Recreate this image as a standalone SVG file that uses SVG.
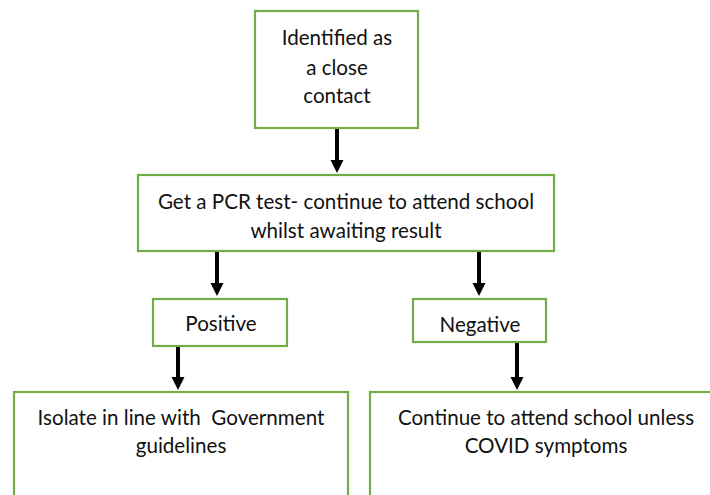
<svg xmlns="http://www.w3.org/2000/svg" width="710" height="495" viewBox="0 0 710 495">
<style>
.box{fill:#ffffff;stroke:#70AD47;stroke-width:2.2}
.t{font-family:Lato,"Open Sans","Liberation Sans",sans-serif;font-size:20.6px;fill:#111;text-anchor:middle}
.c{stroke:#000;stroke-width:4;fill:none}
</style>
<defs>
<marker id="ah" markerUnits="userSpaceOnUse" markerWidth="14" markerHeight="14" refX="1" refY="6.5" orient="auto">
<path d="M0,0 L13,6.5 L0,13 z" fill="#000"/>
</marker>
</defs>
<rect width="710" height="495" fill="#fff"/>
<g id="connectors">
<line class="c" x1="337" y1="128" x2="337" y2="161" marker-end="url(#ah)"/>
<line class="c" x1="217" y1="251" x2="217" y2="284" marker-end="url(#ah)"/>
<line class="c" x1="479" y1="251" x2="479" y2="284" marker-end="url(#ah)"/>
<line class="c" x1="178" y1="346" x2="178" y2="378" marker-end="url(#ah)"/>
<line class="c" x1="517" y1="342" x2="517" y2="378" marker-end="url(#ah)"/>
</g>
<g id="n1">
<rect class="box" x="255" y="11" width="163" height="117"/>
<text class="t" x="337" y="44.5">Identified as</text>
<text class="t" x="337" y="74.5">a close</text>
<text class="t" x="337" y="102.5">contact</text>
</g>
<g id="n2">
<rect class="box" x="138" y="175" width="416" height="76"/>
<text class="t" x="346" y="208.5">Get a PCR test- continue to attend school</text>
<text class="t" x="346" y="237.5">whilst awaiting result</text>
</g>
<g id="n3">
<rect class="box" x="153" y="299" width="134" height="47"/>
<text class="t" x="221" y="331">Positive</text>
</g>
<g id="n4">
<rect class="box" x="413" y="299" width="133" height="43"/>
<text class="t" x="480" y="332">Negative</text>
</g>
<g id="n5">
<rect class="box" x="14" y="392" width="334" height="110"/>
<text class="t" x="181" y="425" xml:space="preserve">Isolate in line with  Government</text>
<text class="t" x="181" y="453">guidelines</text>
</g>
<g id="n6">
<rect class="box" x="370" y="392" width="355" height="110"/>
<text class="t" x="546" y="424.5">Continue to attend school unless</text>
<text class="t" x="546" y="453">COVID symptoms</text>
</g>
</svg>
